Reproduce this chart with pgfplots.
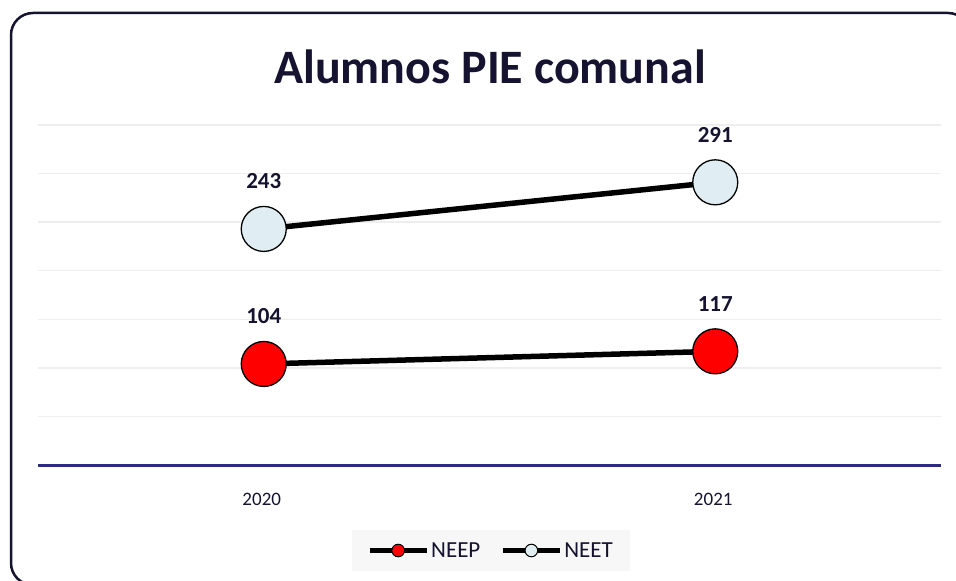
\documentclass[border=0pt]{standalone}
\usepackage{fontspec}
\setmainfont{Carlito}
\usepackage{pgfplots}
\pgfplotsset{compat=1.18}
\definecolor{navy}{HTML}{15132F}
\definecolor{axisblue}{HTML}{2E2A7C}
\definecolor{gridgray}{HTML}{EEEEEE}
\definecolor{neet}{HTML}{E0EEF3}
\definecolor{legbg}{HTML}{F7F7F7}
\begin{document}
\begin{tikzpicture}[x=1pt,y=1pt]
\useasboundingbox (0,0) rectangle (956,581);
\draw[navy, line width=2.5pt, rounded corners=22pt] (11,568) rectangle (970,-4);
\node[anchor=base, font=\bfseries\fontsize{48}{52}\selectfont, text=navy, inner sep=0pt] at (490,497) {Alumnos PIE comunal};
\begin{axis}[
  at={(38pt,116pt)}, anchor=south west, scale only axis,
  width=903pt, height=340pt,
  xmin=-0.5, xmax=1.5, ymin=0, ymax=350,
  xtick={0,1}, xticklabels={2020,2021},
  ytick={0,50,...,350}, yticklabels={},
  ymajorgrids, grid style={gridgray, line width=1.5pt},
  axis x line*=bottom, axis y line*=left,
  x axis line style={axisblue, line width=3pt},
  y axis line style={draw=none},
  major tick length=0pt,
  xticklabel style={font=\fontsize{19}{23}\selectfont, text=navy, anchor=base, yshift=-40pt, xshift=-2pt},
  clip=false,
  nodes near coords,
  /pgf/number format/assume math mode=true,
  every node near coord/.append style={font=\bfseries\fontsize{23}{26}\selectfont, text=navy, anchor=base, yshift=40pt},
  legend columns=2,
  legend style={at={(axis description cs:0.5017,-0.2515)}, anchor=center,
    fill=legbg, draw=none, font=\fontsize{23}{26}\selectfont, text=navy,
    inner xsep=15pt, inner ysep=10.5pt,
    nodes={inner sep=2pt},
    /tikz/every even column/.append style={column sep=18pt}},
]
\addplot[black, line width=5.5pt, mark=*, mark size=22.5pt,
  mark options={fill=red, draw=black, line width=1.3pt},
  legend image code/.code={
    \draw[black, line width=5pt] (0pt,0pt) -- (57pt,0pt);
    \draw[black, line width=1pt, fill=red] (28.5pt,0pt) circle (6.3pt);}]
  coordinates {(0,104) (1,117)};
\addlegendentry{NEEP}
\addplot[black, line width=5.5pt, mark=*, mark size=22.5pt,
  mark options={fill=neet, draw=black, line width=1.3pt},
  legend image code/.code={
    \draw[black, line width=5pt] (0pt,0pt) -- (57pt,0pt);
    \draw[black, line width=1pt, fill=neet] (28.5pt,0pt) circle (6.3pt);}]
  coordinates {(0,243) (1,291)};
\addlegendentry{NEET}
\end{axis}
\end{tikzpicture}
\end{document}
